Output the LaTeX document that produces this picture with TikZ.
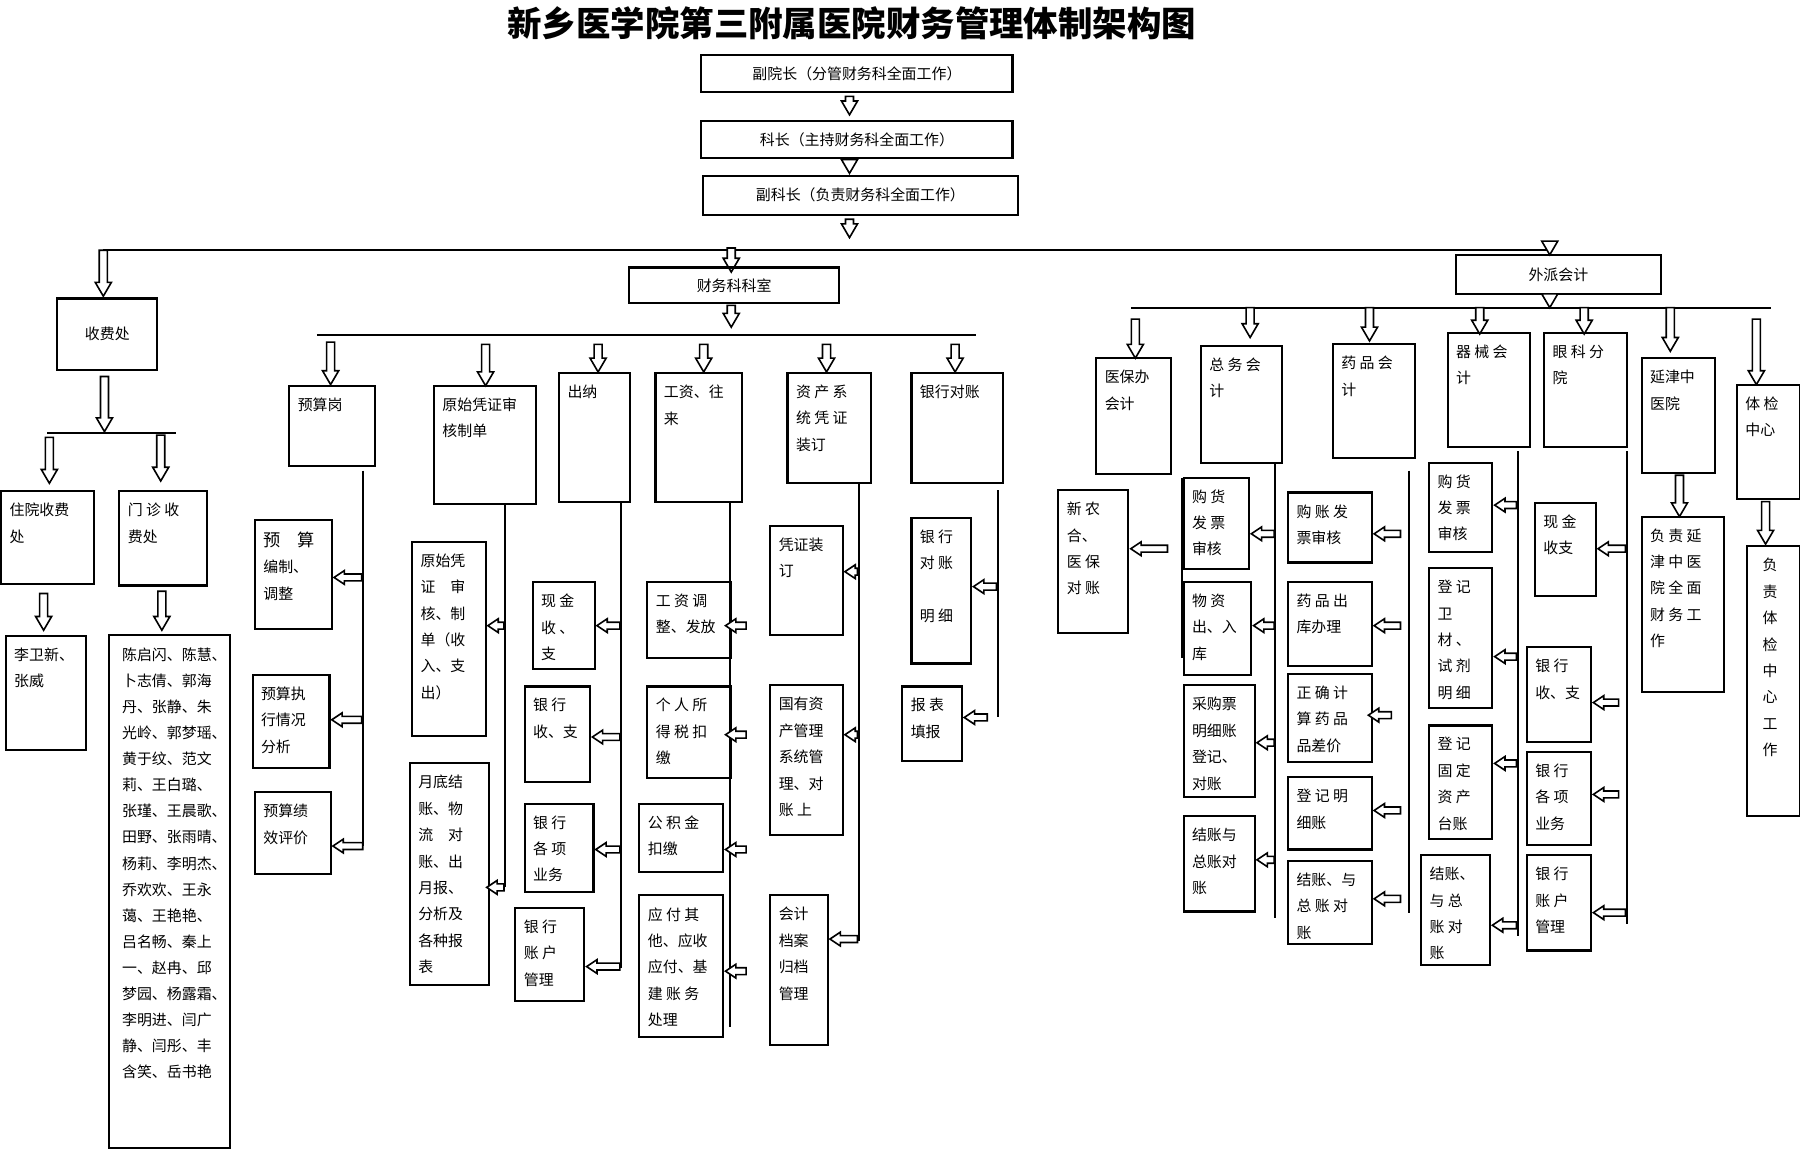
\documentclass[tikz,border=0pt]{standalone}
\usepackage{fontspec}
\setmainfont{Noto Sans CJK SC}
\begin{document}
\begin{tikzpicture}[x=0.5pt,y=-0.5pt,
  boxline/.style={draw=black,line width=0.9pt},
  txt/.style={anchor=north west,inner sep=0pt,align=left,font=\fontsize{6.5}{11.5}\selectfont},
  ctxt/.style={inner sep=0pt,font=\fontsize{6.5}{8}\selectfont},
  arr/.style={draw=black,fill=white,line width=0.7pt},
  ln/.style={draw=black,line width=0.9pt}]
\useasboundingbox[fill=white] (0,0) rectangle (1568,1001);
\newcommand\bx[6]{\draw[boxline] (#2,#3) rectangle (#4,#5); \node[txt] (#1) at (#2+7,#3+10) {#6};}
\newcommand\cbx[6]{\draw[boxline] (#2,#3) rectangle (#4,#5); \node[ctxt] (#1) at ({(#2+#4)/2},{(#3+#5)/2}) {#6};}
\newcommand\hd[3]{\draw[arr] (#1-3.5,#2) -- (#1-3.5,#3-12) -- (#1-7,#3-12) -- (#1,#3) -- (#1+7,#3-12) -- (#1+3.5,#3-12) -- (#1+3.5,#2) -- cycle;}
\newcommand\hl[3]{\draw[arr] (#2,#1-3) -- (#3+9,#1-3) -- (#3+9,#1-6) -- (#3,#1) -- (#3+9,#1+6) -- (#3+9,#1+3) -- (#2,#1+3) -- cycle;}
% title
\node[font=\fontsize{15}{18}\selectfont\bfseries] (title) at (742,20) {新乡医学院第三附属医院财务管理体制架构图};
% top chain
\cbx{b1}{611}{48}{882}{80}{副院长（分管财务科全面工作）}
\hd{740}{84}{100}
\cbx{b2}{611}{105}{882}{138}{科长（主持财务科全面工作）}
\hd{740}{139}{151}
\cbx{b3}{612}{153}{887}{187}{副科长（负责财务科全面工作）}
\hd{740}{191}{207}
\draw[ln] (90,218) -- (1350,218);
\hd{90}{218}{258}
\hd{637}{216}{237}
\hd{1350}{210}{222}
\cbx{cw}{548}{233}{731}{264}{财务科科室}
\cbx{wp}{1268}{222}{1447}{256}{外派会计}
\cbx{sf}{50}{260}{137}{322}{收费处}
% 收费处
\hd{91}{328}{376}
\draw[ln] (41,377) -- (153,377);
\hd{43}{381}{421}
\hd{140}{379}{419}
\bx{zy}{1}{428}{82}{509}{住院收费\\处}
\bx{mz}{104}{428}{180}{510}{门 诊 收\\费处}
\hd{38}{517}{549}
\hd{141}{515}{549}
\bx{lw}{5}{554}{75}{653}{李卫新、\\张威}
\draw[boxline] (95,553) rectangle (200,1000);
\node[txt,font=\fontsize{6.5}{11.35}\selectfont] (names) at (106,564) {陈启闪、陈慧、\\卜志倩、郭海\\丹、张静、朱\\光岭、郭梦瑶、\\黄于纹、范文\\莉、王白璐、\\张瑾、王晨歌、\\田野、张雨晴、\\杨莉、李明杰、\\乔欢欢、王永\\蔼、王艳艳、\\吕名畅、秦上\\一、赵冉、邱\\梦园、杨露霜、\\李明进、闫广\\静、闫彤、丰\\含笑、岳书艳};
% 财务科科室
\hd{637}{266}{285}
\draw[ln] (276,292) -- (850,292);
\hd{288}{298}{335}
\hd{423}{300}{336}
\hd{521}{300}{324}
\hd{613}{300}{324}
\hd{720}{300}{324}
\hd{832}{300}{324}
\bx{ys}{252}{336}{327}{406}{预算岗}
\bx{ysh}{378}{336}{467}{439}{原始凭证审\\核制单}
\bx{cn}{487}{325}{549}{437}{出纳}
\bx{gz}{571}{325}{646}{437}{工资、往\\来}
\bx{zc}{686}{325}{759}{421}{资 产 系\\统 凭 证\\装订}
\bx{yh}{794}{325}{874}{421}{银行对账}
% 预算
\draw[ln] (316,410) -- (316,737);
\bx{ys1}{222}{453}{289}{548}{\fontsize{7.5}{11.5}\selectfont 预　算\\编制、\\调整}
\bx{ys2}{220}{588}{287}{669}{预算执\\行情况\\分析}
\bx{ys3}{222}{690}{288}{761}{预算绩\\效评价}
\hl{503}{315}{291}
\hl{627}{315}{289}
\hl{737}{316}{290}
% 原始
\draw[ln] (440,439) -- (440,773);
\bx{yz1}{359}{472}{423}{641}{原始凭\\证　审\\核、制\\单（收\\入、支\\出）}
\bx{yz2}{357}{665}{426}{858}{月底结\\账、物\\流　对\\账、出\\月报、\\分析及\\各种报\\表}
\hl{545}{439}{425}
\hl{773}{439}{424}
% 出纳
\draw[ln] (541,437) -- (541,843);
\bx{cn1}{464}{507}{518}{583}{现 金\\收 、\\支}
\bx{cn2}{457}{598}{514}{681}{银 行\\收、支}
\bx{cn3}{457}{700}{517}{777}{银 行\\各 项\\业务}
\bx{cn4}{449}{791}{509}{872}{银 行\\账 户\\管理}
\hl{545}{540}{520}
\hl{642}{540}{516}
\hl{740}{540}{519}
\hl{842}{540}{511}
% 工资
\draw[ln] (636,437) -- (636,895);
\bx{gz1}{564}{507}{637}{573}{工 资 调\\整、发放}
\bx{gz2}{564}{598}{637}{678}{个 人 所\\得 税 扣\\缴}
\bx{gz3}{557}{700}{630}{760}{公 积 金\\扣缴}
\bx{gz4}{557}{780}{630}{903}{应 付 其\\他、应收\\应付、基\\建 账 务\\处理}
\hl{545}{650}{632}
\hl{640}{650}{632}
\hl{740}{650}{632}
\hl{846}{650}{632}
% 资产
\draw[ln] (748,421) -- (748,820);
\bx{zc1}{671}{458}{734}{553}{凭证装\\订}
\bx{zc2}{671}{597}{734}{727}{国有资\\产管理\\系统管\\理、对\\账 上}
\bx{zc3}{671}{780}{721}{910}{会计\\档案\\归档\\管理}
\hl{498}{747}{736}
\hl{640}{747}{736}
\hl{818}{747}{723}
% 银行对账
\draw[ln] (869,427) -- (869,625);
\bx{yh1}{794}{451}{846}{578}{银 行\\对 账\\\\明 细}
\bx{yh2}{786}{598}{838}{663}{报 表\\填报}
\hl{511}{868}{848}
\hl{625}{860}{840}
% 外派会计
\hd{1350}{256}{268}
\draw[ln] (985,268) -- (1543,268);
\hd{989}{278}{312}
\hd{1089}{268}{294}
\hd{1193}{268}{297}
\hd{1289}{268}{291}
\hd{1380}{268}{291}
\hd{1455}{268}{306}
\hd{1530}{278}{335}
\bx{yb}{955}{312}{1020}{413}{医保办\\会计}
\bx{zw}{1046}{301}{1117}{403}{总 务 会\\计}
\bx{yp}{1161}{300}{1233}{399}{药 品 会\\计}
\bx{qx}{1261}{290}{1333}{389}{器 械 会\\计}
\bx{yk}{1345}{290}{1417}{389}{眼 科 分\\院}
\bx{yj}{1430}{312}{1494}{412}{延津中\\医院}
\bx{tj}{1513}{335}{1568}{435}{体 检\\中心}
% 医保
\draw[ln] (1030,416) -- (1030,573);
\bx{yb1}{922}{427}{983}{551}{新 农\\合、\\医 保\\对 账}
\hl{478}{1017}{985}
% 总务
\draw[ln] (1111,403) -- (1111,800);
\bx{zw1}{1031}{416}{1088}{496}{购 货\\发 票\\审核}
\bx{zw2}{1031}{507}{1090}{588}{物 资\\出、入\\库}
\bx{zw3}{1031}{597}{1093}{694}{采购票\\明细账\\登记、\\对账}
\bx{zw4}{1031}{711}{1093}{794}{结账与\\总账对\\账}
\hl{465}{1110}{1090}
\hl{545}{1110}{1092}
\hl{647}{1110}{1095}
\hl{749}{1110}{1095}
% 药品
\draw[ln] (1227,410) -- (1227,795);
\bx{yp1}{1122}{429}{1195}{490}{购 账 发\\票审核}
\bx{yp2}{1122}{507}{1195}{580}{药 品 出\\库办理}
\bx{yp3}{1122}{587}{1195}{664}{正 确 计\\算 药 品\\品差价}
\bx{yp4}{1122}{677}{1195}{740}{登 记 明\\细账}
\bx{yp5}{1122}{750}{1195}{822}{结账、与\\总 账 对\\账}
\hl{465}{1220}{1197}
\hl{545}{1220}{1197}
\hl{623}{1212}{1192}
\hl{706}{1220}{1197}
\hl{783}{1220}{1197}
% 器械
\draw[ln] (1322,393) -- (1322,815);
\bx{qx1}{1245}{403}{1300}{481}{购 货\\发 票\\审核}
\bx{qx2}{1245}{495}{1300}{617}{登 记\\卫\\材 、\\试 剂\\明 细}
\bx{qx3}{1245}{632}{1300}{731}{登 记\\固 定\\资 产\\台账}
\bx{qx4}{1238}{745}{1298}{841}{结账、\\与 总\\账 对\\账}
\hl{440}{1321}{1302}
\hl{572}{1321}{1302}
\hl{665}{1321}{1302}
\hl{806}{1321}{1300}
% 眼科
\draw[ln] (1417,393) -- (1417,805);
\bx{yk1}{1337}{438}{1390}{519}{现 金\\收支}
\bx{yk2}{1330}{564}{1386}{646}{银 行\\收、支}
\bx{yk3}{1330}{655}{1386}{736}{银 行\\各 项\\业务}
\bx{yk4}{1330}{745}{1386}{828}{银 行\\账 户\\管理}
\hl{478}{1416}{1392}
\hl{612}{1410}{1388}
\hl{692}{1410}{1388}
\hl{795}{1416}{1388}
% 延津
\hd{1463}{414}{450}
\bx{yj1}{1430}{450}{1502}{603}{负 责 延\\津 中 医\\院 全 面\\财 务 工\\作}
% 体检
\hd{1538}{437}{474}
\bx{tj1}{1522}{476}{1568}{711}{\hspace*{3pt}负\\\hspace*{3pt}责\\\hspace*{3pt}体\\\hspace*{3pt}检\\\hspace*{3pt}中\\\hspace*{3pt}心\\\hspace*{3pt}工\\\hspace*{3pt}作}
\end{tikzpicture}
\end{document}
